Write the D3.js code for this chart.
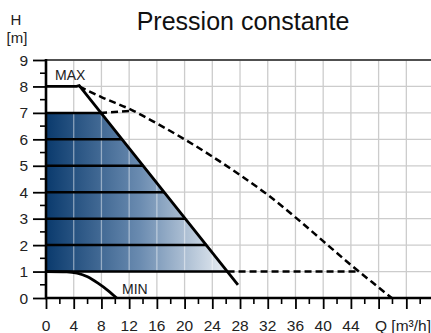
<!DOCTYPE html>
<html><head><meta charset="utf-8">
<script src="https://cdn.jsdelivr.net/npm/d3@7"></script>
<style>body{margin:0;background:#fff}svg{display:block;font-family:"Liberation Sans",Arial,sans-serif}</style>
</head><body>
<svg id="c" width="431" height="333"></svg>
<script>
const xTicks = [0,4,8,12,16,20,24,28,32,36,40,44];
const yTicks = [0,1,2,3,4,5,6,7,8,9];
const maxCurve = [[0,8],[4.4,8],[4.8,8.03],[27.7,0.5]];
const levels = [1,2,3,4,5,6,7];
const fillPoly = [[0,1],[0,7],[7.8,7],[26.2,1]];
const dashedMax = [[4.8,8.0],[8,7.6],[12.6,7.08],[16,6.6],[20,6.0],[24,5.35],[28,4.65],[32,3.9],[36,3.05],[40,2.15],[44,1.25],[48,0.4],[49.9,0]];
const dashed7 = [[7.8,7],[12.6,7.08]];
const dashed1 = [[26.2,1],[45.2,1]];
const minCurve = [[0,1],[3,0.99],[4.5,0.94],[6,0.8],[7.5,0.56],[9,0.27],[10.2,0]];

const svg = d3.select("#c");
const x = d3.scaleLinear().domain([0,55.56]).range([46,431]);
const y = d3.scaleLinear().domain([0,9]).range([298,60]);
const line = d3.line().x(d=>x(d[0])).y(d=>y(d[1]));
const smooth = d3.line().x(d=>x(d[0])).y(d=>y(d[1])).curve(d3.curveMonotoneX);

const gridX = d3.range(0,56,4);
const g = svg.append("g");
g.selectAll(".gv").data(gridX).join("line").attr("x1",d=>x(d)).attr("x2",d=>x(d)).attr("y1",y(0)).attr("y2",y(9)).attr("stroke","#cccccc").attr("stroke-width",1.3);
g.selectAll(".gh").data(yTicks).join("line").attr("x1",x(0)).attr("x2",431).attr("y1",d=>y(d)).attr("y2",d=>y(d)).attr("stroke","#cccccc").attr("stroke-width",1.3);

const defs = svg.append("defs");
const grad = defs.append("linearGradient").attr("id","gr").attr("gradientUnits","userSpaceOnUse")
  .attr("x1",x(0)).attr("x2",x(27)).attr("y1",0).attr("y2",0);
grad.append("stop").attr("offset",0).attr("stop-color","#0a3a6d");
grad.append("stop").attr("offset",0.5).attr("stop-color","#6a8bb0");
grad.append("stop").attr("offset",1).attr("stop-color","#f2f5f8");
defs.append("clipPath").attr("id","cp").append("path").attr("d",line(fillPoly)+"Z");
svg.append("path").attr("d",line(fillPoly)+"Z").attr("fill","url(#gr)");
svg.append("g").attr("clip-path","url(#cp)").selectAll("line").data(gridX).join("line")
  .attr("x1",d=>x(d)).attr("x2",d=>x(d)).attr("y1",y(0)).attr("y2",y(9)).attr("stroke","#ffffff").attr("stroke-opacity",0.45).attr("stroke-width",1.3);

svg.append("line").attr("x1",x(0)).attr("x2",431).attr("y1",y(9)).attr("y2",y(9)).attr("stroke","#222").attr("stroke-width",1.6);

const dash = "7,4";
svg.append("path").attr("d",smooth(dashedMax)).attr("fill","none").attr("stroke","#000").attr("stroke-width",2.5).attr("stroke-dasharray",dash);
[dashed7,dashed1].forEach(p=>svg.append("path").attr("d",line(p)).attr("fill","none").attr("stroke","#000").attr("stroke-width",2.5).attr("stroke-dasharray",dash));

const maxAt = h => 4.8 + (8.03-h)/((8.03-0.5)/(27.7-4.8));
svg.selectAll(".lv").data(levels).join("line").attr("x1",x(0)).attr("x2",d=>x(maxAt(d))).attr("y1",d=>y(d)).attr("y2",d=>y(d)).attr("stroke","#000").attr("stroke-width",2.5);
svg.append("path").attr("d",line(maxCurve)).attr("fill","none").attr("stroke","#000").attr("stroke-width",2.8).attr("stroke-linejoin","miter");
svg.append("path").attr("d",smooth(minCurve)).attr("fill","none").attr("stroke","#000").attr("stroke-width",2.8);

const xAxis = d3.axisBottom(x).tickValues(d3.range(0,56,4)).tickSize(11).tickFormat("");
const xa = svg.append("g").attr("transform",`translate(0,${y(0)})`).call(xAxis);
xa.select(".domain").remove();
xa.selectAll("line").attr("stroke","#000").attr("stroke-width",1.8);
svg.append("g").selectAll("line").data(d3.range(2,56,4)).join("line").attr("x1",d=>x(d)).attr("x2",d=>x(d)).attr("y1",y(0)).attr("y2",y(0)+6).attr("stroke","#000").attr("stroke-width",1.6);
svg.append("line").attr("x1",x(0)-1).attr("x2",431).attr("y1",y(0)).attr("y2",y(0)).attr("stroke","#000").attr("stroke-width",2.6);
svg.selectAll(".xl").data(xTicks).join("text").attr("x",d=>x(d)).attr("y",331).attr("text-anchor","middle").attr("font-size",15.5).attr("fill","#222").text(d=>d);
svg.append("text").attr("x",375).attr("y",331).attr("font-size",15.5).attr("fill","#222").text("Q [m³/h]");

const yAxis = d3.axisLeft(y).tickValues(yTicks).tickSize(13).tickFormat("");
const ya = svg.append("g").attr("transform",`translate(${x(0)},0)`).call(yAxis);
ya.select(".domain").remove();
ya.selectAll("line").attr("stroke","#000").attr("stroke-width",1.8);
svg.append("g").selectAll("line").data(d3.range(0.5,9,1)).join("line").attr("x1",x(0)-6).attr("x2",x(0)).attr("y1",d=>y(d)).attr("y2",d=>y(d)).attr("stroke","#000").attr("stroke-width",1.6);
svg.append("line").attr("x1",x(0)).attr("x2",x(0)).attr("y1",y(9)-1).attr("y2",y(0)+1).attr("stroke","#000").attr("stroke-width",2.6);
svg.selectAll(".yl").data(yTicks).join("text").attr("x",28).attr("y",d=>y(d)+5.5).attr("text-anchor","end").attr("font-size",15.5).attr("fill","#222").text(d=>d);

svg.append("text").attr("x",16).attr("y",25).attr("text-anchor","middle").attr("font-size",15).attr("fill","#222").text("H");
svg.append("text").attr("x",17).attr("y",43).attr("text-anchor","middle").attr("font-size",15).attr("fill","#222").text("[m]");
svg.append("text").attr("x",243).attr("y",30).attr("text-anchor","middle").attr("font-size",25).attr("fill","#111").text("Pression constante");
svg.append("text").attr("x",55).attr("y",80).attr("font-size",14).attr("fill","#222").text("MAX");
svg.append("text").attr("x",122).attr("y",294).attr("font-size",14).attr("fill","#222").text("MIN");
</script>
</body></html>
